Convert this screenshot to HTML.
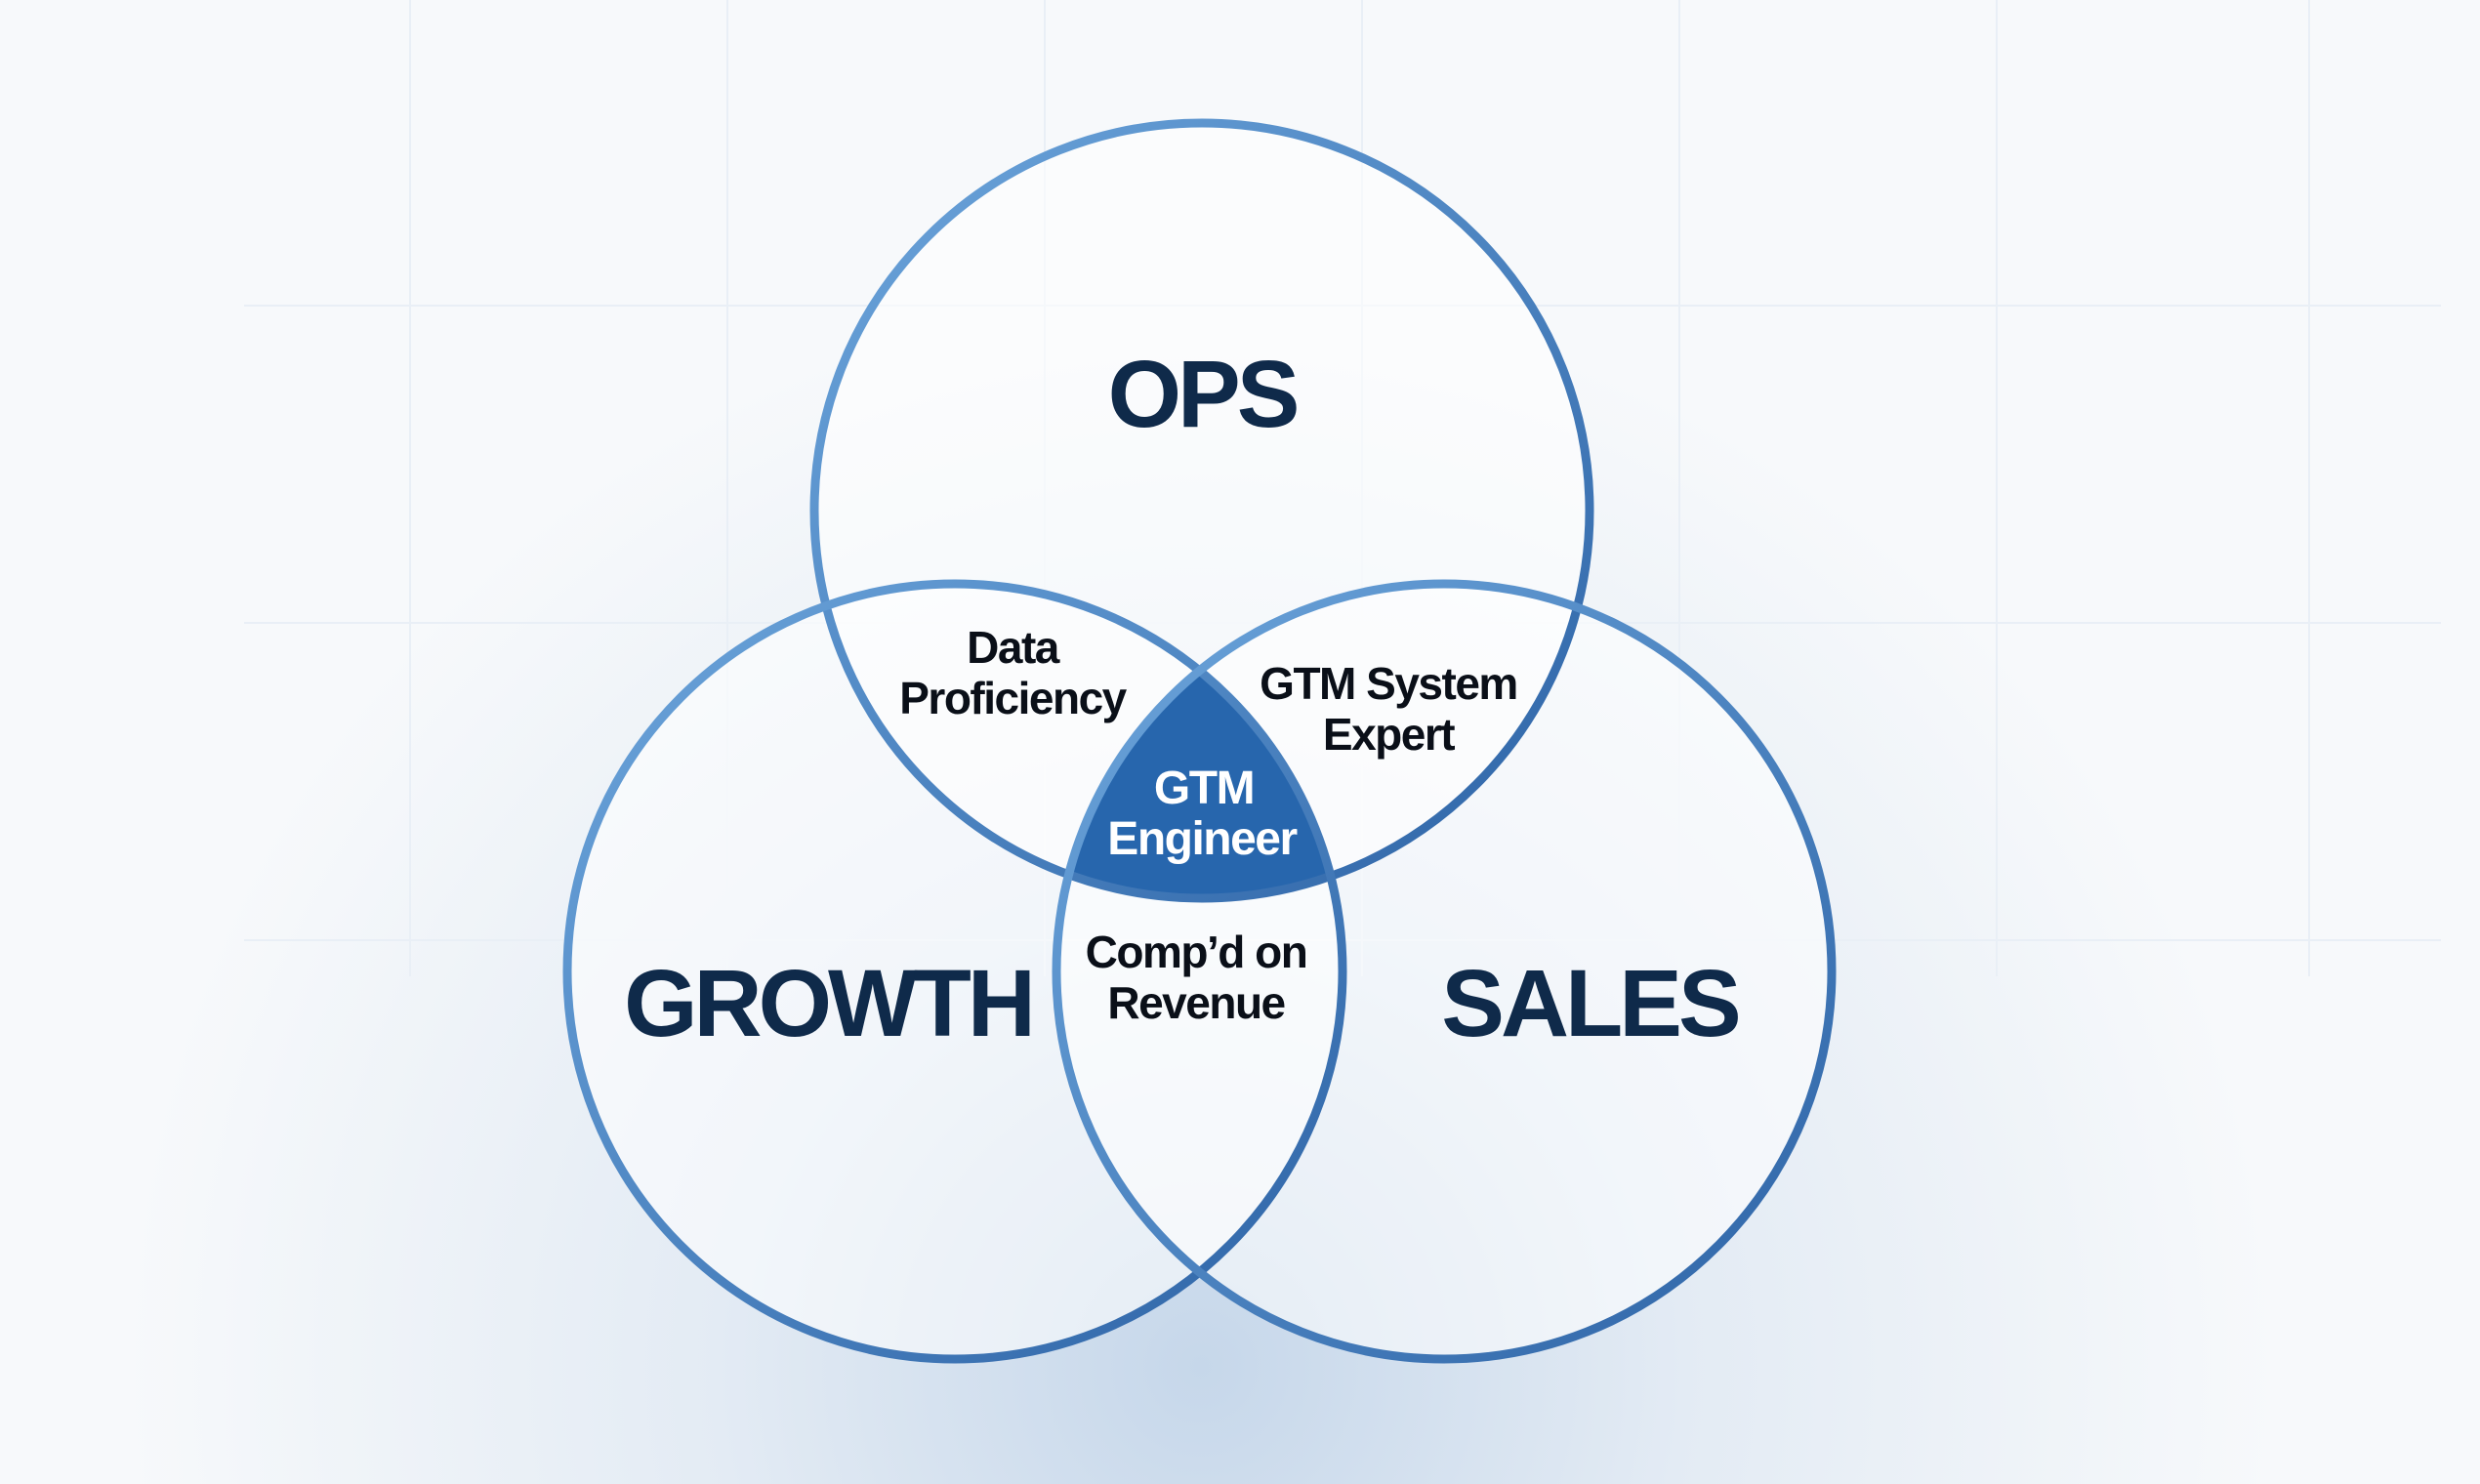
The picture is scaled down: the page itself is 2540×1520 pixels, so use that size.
<!DOCTYPE html>
<html><head><meta charset="utf-8"><style>
html,body{margin:0;padding:0;width:2540px;height:1520px;overflow:hidden;background:#f4f7fa}
</style></head><body>
<svg width="2540" height="1520" viewBox="0 0 2540 1520" xmlns="http://www.w3.org/2000/svg">
<defs>
<radialGradient id="bg" cx="1230" cy="1400" r="1100" gradientUnits="userSpaceOnUse">
<stop offset="0" stop-color="#c6d7ea"/><stop offset="0.45" stop-color="#e3ebf4"/><stop offset="1" stop-color="#f7f9fb"/>
</radialGradient>
<linearGradient id="s1" x1="0" y1="0" x2="1" y2="1"><stop offset="0" stop-color="#6da6dc"/><stop offset="1" stop-color="#2d63a6"/></linearGradient>
<clipPath id="cg"><circle cx="978" cy="995" r="397"/></clipPath>
<clipPath id="cs"><circle cx="1479" cy="995" r="397"/></clipPath>
</defs>
<rect width="2540" height="1520" fill="url(#bg)"/>
<g stroke="#e9eff6" stroke-width="2">
<line x1="420" y1="0" x2="420" y2="1000"/><line x1="745" y1="0" x2="745" y2="1000"/><line x1="1070" y1="0" x2="1070" y2="1000"/><line x1="1395" y1="0" x2="1395" y2="1000"/><line x1="1720" y1="0" x2="1720" y2="1000"/><line x1="2045" y1="0" x2="2045" y2="1000"/><line x1="2365" y1="0" x2="2365" y2="1000"/>
<line x1="250" y1="313" x2="2500" y2="313"/><line x1="250" y1="638" x2="2500" y2="638"/><line x1="250" y1="963" x2="2500" y2="963"/>
</g>
<g fill="#ffffff" fill-opacity="0.55">
<circle cx="1231" cy="523" r="397"/><circle cx="978" cy="995" r="397"/><circle cx="1479" cy="995" r="397"/>
</g>
<g clip-path="url(#cg)"><g clip-path="url(#cs)"><circle cx="1231" cy="523" r="397" fill="#2766ad"/></g></g>
<g fill="none" stroke="url(#s1)" stroke-width="9">
<circle cx="1231" cy="523" r="397"/><circle cx="978" cy="995" r="397"/><circle cx="1479" cy="995" r="397"/>
</g>
<g font-family="Liberation Sans, sans-serif" font-weight="bold" text-anchor="middle">
<g fill="#0f2a4a" font-size="97" letter-spacing="-4">
<text x="1231" y="437">OPS</text><text x="848" y="1061">GROWTH</text><text x="1628" y="1061">SALES</text>
</g>
<g fill="#0a0f18" font-size="46" letter-spacing="-1.5">
<text x="1037" y="679">Data</text><text x="1037" y="731">Proficiency</text>
<text x="1422" y="716">GTM System</text><text x="1422" y="768">Expert</text>
<text x="1225" y="991">Comp’d on</text><text x="1225" y="1043">Revenue</text>
</g>
<g fill="#ffffff" font-size="48" letter-spacing="-1.5">
<text x="1233" y="823">GTM</text><text x="1231" y="875">Engineer</text>
</g>
</g>
</svg>
</body></html>
